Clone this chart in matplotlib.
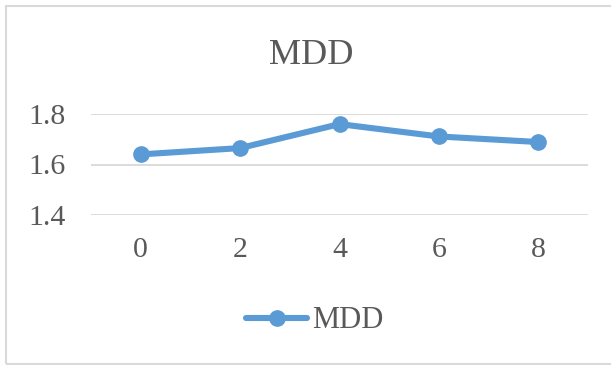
import matplotlib
matplotlib.use("Agg")
import matplotlib.pyplot as plt
from matplotlib.patches import Rectangle

# MDD values per step
steps = ["0", "2", "4", "6", "8"]
mdd = [1.64, 1.665, 1.76, 1.711, 1.689]
yticks = [1.4, 1.6, 1.8]

plt.rcParams["font.family"] = ["Liberation Serif", "DejaVu Serif"]
text_color = "#595959"
line_color = "#5b9bd5"

fig = plt.figure(figsize=(6.11, 3.65), dpi=100)
ax = fig.add_axes([91 / 611, 1 - 215 / 365, 497 / 611, 101 / 365])

x = range(len(steps))
ax.plot(x, mdd, color=line_color, linewidth=4.4, marker="o",
        markersize=11, label="MDD", solid_capstyle="round")

ax.set_xlim(-0.5, len(steps) - 0.5)
ax.set_ylim(1.4, 1.8)
ax.set_xticks(list(x))
ax.set_xticklabels(steps)
ax.set_yticks(yticks)
ax.set_yticklabels([f"{v:.1f}" for v in yticks])
ax.tick_params(axis="both", length=0, labelsize=21.5, colors=text_color)
ax.tick_params(axis="x", pad=15.5)
ax.tick_params(axis="y", pad=18.5)
ax.grid(axis="y", color="#d9d9d9", linewidth=1.3)
ax.set_axisbelow(True)
for s in ax.spines.values():
    s.set_visible(False)

fig.text(311 / 611, 1 - 56 / 365, "MDD", ha="center", va="center",
         fontsize=26, color=text_color)

leg = fig.legend(loc="center", bbox_to_anchor=(315 / 611, 1 - 321 / 365),
                 frameon=False, fontsize=22, handlelength=2.0,
                 handletextpad=0.16, labelcolor=text_color)

# chart border
fig.patches.append(Rectangle((6 / 611, 1.5 / 365), 0.995, 358 / 365,
                             transform=fig.transFigure, fill=False,
                             edgecolor="#d9d9d9", linewidth=1.5))

fig.savefig("out.png", dpi=100)
